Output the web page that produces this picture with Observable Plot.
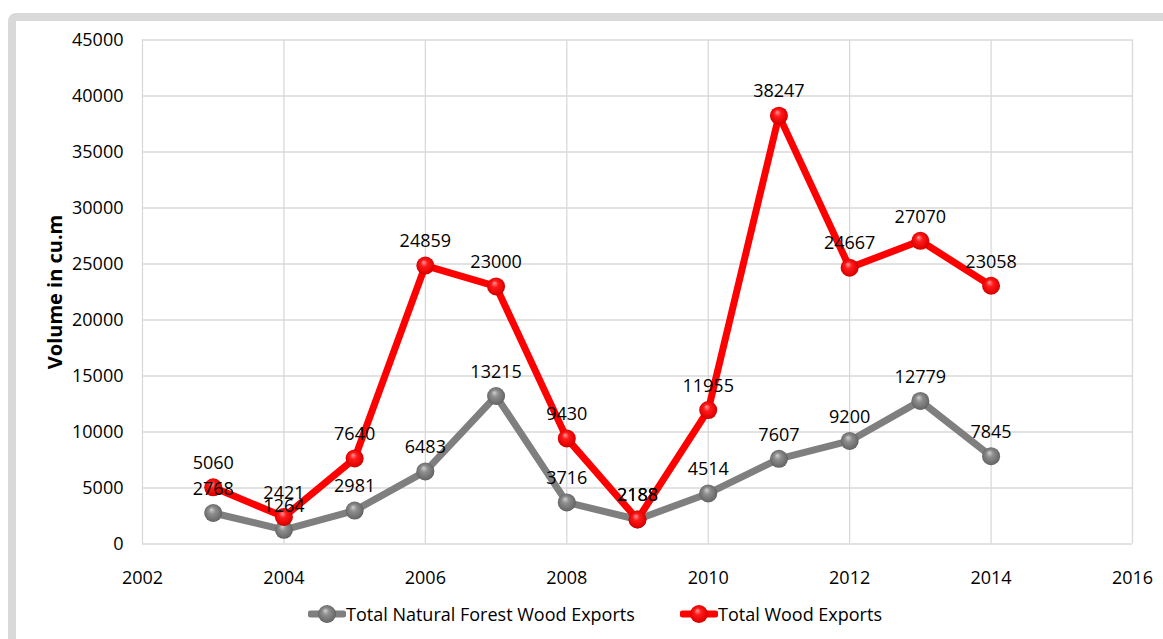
<!DOCTYPE html>
<html>
<head>
<meta charset="utf-8">
<script src="https://cdn.jsdelivr.net/npm/d3@7"></script>
<script src="https://cdn.jsdelivr.net/npm/@observablehq/plot@0.6"></script>
<style>
  html, body { margin: 0; padding: 0; background: #fff; overflow: hidden; }
  body { width: 1163px; height: 639px; position: relative; font-family: "Open Sans", sans-serif; }
  #frame {
    position: absolute; left: 8px; top: 13px; width: 1200px; height: 700px;
    border: 8px solid #d9d9d9; border-radius: 8px; box-sizing: border-box;
  }
  #chart { position: absolute; left: 0; top: 0; }
  .legend-item { position: absolute; top: 602px; display: flex; align-items: center; font-size: 18px; color: #000; white-space: nowrap; }
  .legend-item svg { display: block; }
</style>
</head>
<body>
<div id="frame"></div>
<div id="chart"></div>
<div id="legend"></div>
<script>
// Wood export volumes (cu.m) by year
const years = [2003, 2004, 2005, 2006, 2007, 2008, 2009, 2010, 2011, 2012, 2013, 2014];
const naturalForestExports = [2768, 1264, 2981, 6483, 13215, 3716, 2188, 4514, 7607, 9200, 12779, 7845];
const totalWoodExports = [5060, 2421, 7640, 24859, 23000, 9430, 2188, 11955, 38247, 24667, 27070, 23058];
const seriesNames = ["Total Natural Forest Wood Exports", "Total Wood Exports"];
const xTicks = [2002, 2004, 2006, 2008, 2010, 2012, 2014, 2016];
const yTicks = [0, 5000, 10000, 15000, 20000, 25000, 30000, 35000, 40000, 45000];
const yTitle = "Volume in cu.m";

const natural = years.map((year, i) => ({year, value: naturalForestExports[i], series: seriesNames[0]}));
const total = years.map((year, i) => ({year, value: totalWoodExports[i], series: seriesNames[1]}));

const colors = {gray: "#7f7f7f", red: "#ff0000"};

// Shaded sphere gradients for the point markers
function sphereDefs(prefix) {
  const ns = "http://www.w3.org/2000/svg";
  const defs = document.createElementNS(ns, "defs");
  const specs = [
    {id: prefix + "gray", stops: [["0%", "#d0d0d0"], ["35%", "#8e8e8e"], ["85%", "#6a6a6a"], ["100%", "#4a4a4a"]]},
    {id: prefix + "red", stops: [["0%", "#ff9a9a"], ["35%", "#ff1a1a"], ["85%", "#e00000"], ["100%", "#a00000"]]}
  ];
  for (const s of specs) {
    const g = document.createElementNS(ns, "radialGradient");
    g.setAttribute("id", s.id);
    g.setAttribute("cx", "50%"); g.setAttribute("cy", "50%"); g.setAttribute("r", "55%");
    g.setAttribute("fx", "40%"); g.setAttribute("fy", "30%");
    for (const [off, col] of s.stops) {
      const st = document.createElementNS(ns, "stop");
      st.setAttribute("offset", off); st.setAttribute("stop-color", col);
      g.appendChild(st);
    }
    defs.appendChild(g);
  }
  return defs;
}

const fmt = d => String(d);

const chart = Plot.plot({
  width: 1163,
  height: 595,
  marginLeft: 142,
  marginRight: 31,
  marginTop: 39.5,
  marginBottom: 51.5,
  style: {fontFamily: "Open Sans, sans-serif", fontSize: "18px", color: "#000", background: "transparent"},
  x: {domain: [2002, 2016]},
  y: {domain: [0, 45000]},
  marks: [
    Plot.gridX(xTicks, {stroke: "#d9d9d9", strokeOpacity: 1, strokeWidth: 1.3}),
    Plot.gridY(yTicks, {stroke: "#d9d9d9", strokeOpacity: 1, strokeWidth: 1.3}),
    Plot.axisX({ticks: xTicks, tickSize: 0, tickPadding: 27, tickFormat: fmt, label: null}),
    Plot.axisY({ticks: yTicks, tickSize: 0, tickPadding: 19, tickFormat: fmt, label: null}),
    Plot.lineY(natural, {x: "year", y: "value", stroke: colors.gray, strokeWidth: 7}),
    Plot.dot(natural, {x: "year", y: "value", r: 9, fill: "url(#sphere-gray)"}),
    Plot.lineY(total, {x: "year", y: "value", stroke: colors.red, strokeWidth: 7}),
    Plot.dot(total, {x: "year", y: "value", r: 9, fill: "url(#sphere-red)"}),
    Plot.text(natural.concat(total), {x: "year", y: "value", text: d => fmt(d.value), dy: -24, fill: "#000"}),
    Plot.text([yTitle], {frameAnchor: "left", textAnchor: "middle", rotate: -90, dx: -87, fontSize: 20, fontWeight: "bold", fill: "#000"})
  ]
});
chart.insertBefore(sphereDefs("sphere-"), chart.firstChild);
document.getElementById("chart").appendChild(chart);

// Legend below the plot
const legend = document.getElementById("legend");
const legendSpecs = [
  {name: seriesNames[0], color: colors.gray, grad: "leg-gray", left: 308},
  {name: seriesNames[1], color: colors.red, grad: "leg-red", left: 680}
];
legendSpecs.forEach(spec => {
  const item = document.createElement("div");
  item.className = "legend-item";
  item.style.left = spec.left + "px";
  const ns = "http://www.w3.org/2000/svg";
  const sw = document.createElementNS(ns, "svg");
  sw.setAttribute("width", 38); sw.setAttribute("height", 24);
  sw.appendChild(sphereDefs("leg-"));
  const ln = document.createElementNS(ns, "line");
  ln.setAttribute("x1", 3); ln.setAttribute("x2", 35); ln.setAttribute("y1", 12); ln.setAttribute("y2", 12);
  ln.setAttribute("stroke", spec.color); ln.setAttribute("stroke-width", 7); ln.setAttribute("stroke-linecap", "round");
  sw.appendChild(ln);
  const c = document.createElementNS(ns, "circle");
  c.setAttribute("cx", 19); c.setAttribute("cy", 12); c.setAttribute("r", 9);
  c.setAttribute("fill", "url(#" + spec.grad + ")");
  sw.appendChild(c);
  item.appendChild(sw);
  const t = document.createElement("span");
  t.textContent = spec.name;
  item.appendChild(t);
  legend.appendChild(item);
});
</script>
</body>
</html>
